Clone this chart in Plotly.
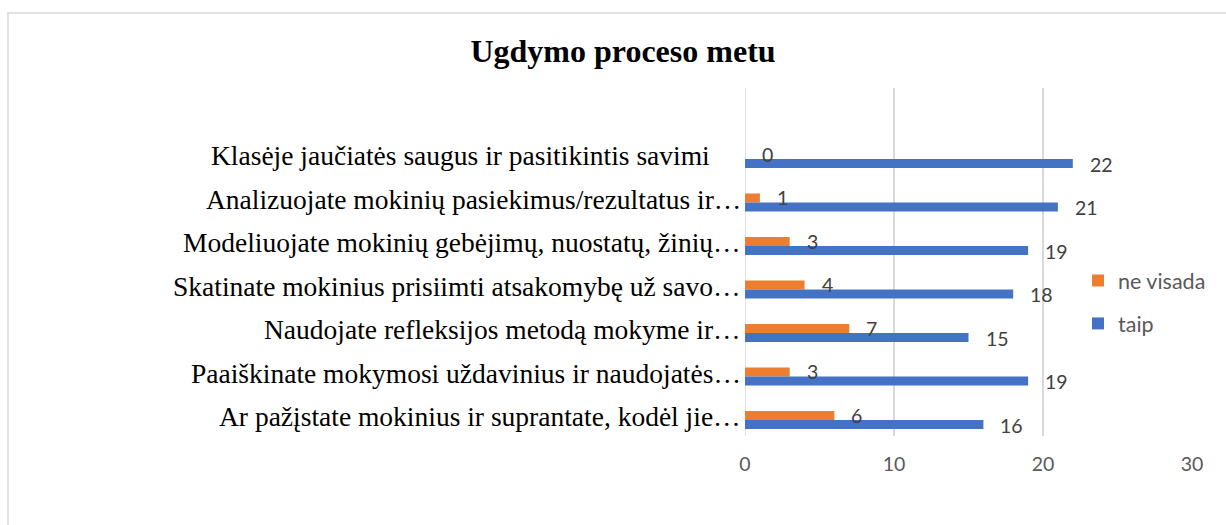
import plotly.graph_objects as go

# Survey answers per statement (top to bottom as listed)
categories = [
    "Klasėje jaučiatės saugus ir pasitikintis savimi",
    "Analizuojate mokinių pasiekimus/rezultatus ir…",
    "Modeliuojate mokinių gebėjimų, nuostatų, žinių…",
    "Skatinate mokinius prisiimti atsakomybę už savo…",
    "Naudojate refleksijos metodą mokyme ir…",
    "Paaiškinate mokymosi uždavinius ir naudojatės…",
    "Ar pažįstate mokinius ir suprantate, kodėl jie…",
]
ne_visada = [0, 1, 3, 4, 7, 3, 6]
taip = [22, 21, 19, 18, 15, 19, 16]
x_ticks = [0, 10, 20, 30]
title_text = "Ugdymo proceso metu"

ORANGE = "#ED7D31"
BLUE = "#4472C4"
GRID = "#d9d9d9"
LABEL_GRAY = "#404040"
AXIS_GRAY = "#595959"
SANS = "Lato"
SERIF = "Liberation Serif"

W, H = 1226, 525
L, R, T, B = 745, 34, 88, 89
plot_w = W - L - R
plot_h = H - T - B

n = len(categories)
# first category drawn at the top
ypos = [n - 1 - i for i in range(n)]
bar_w = 0.207

fig = go.Figure()
fig.add_trace(go.Bar(
    name="ne visada", orientation="h", y=ypos, x=ne_visada,
    width=bar_w, offset=0, marker=dict(color=ORANGE, line=dict(width=0)),
    legendgroup="a",
))
fig.add_trace(go.Bar(
    name="taip", orientation="h", y=ypos, x=taip,
    width=bar_w, offset=-bar_w, marker=dict(color=BLUE, line=dict(width=0)),
    legendgroup="b",
))

annotations = []
# value labels at the bar ends
for yp, v in zip(ypos, ne_visada):
    annotations.append(dict(x=v, y=yp + bar_w / 2, xref="x", yref="y", text=str(v),
                            showarrow=False, xanchor="left", yanchor="middle",
                            xshift=15, yshift=0,
                            font=dict(family=SANS, size=19.5, color=LABEL_GRAY)))
for yp, v in zip(ypos, taip):
    annotations.append(dict(x=v, y=yp - bar_w / 2, xref="x", yref="y", text=str(v),
                            showarrow=False, xanchor="left", yanchor="middle",
                            xshift=15, yshift=-1,
                            font=dict(family=SANS, size=19.5, color=LABEL_GRAY)))
# category labels
for yp, c in zip(ypos, categories):
    annotations.append(dict(x=0, y=yp, xref="x", yref="y", text=c,
                            showarrow=False, xanchor="right", yanchor="middle",
                            xshift=-2 if c.endswith("…") else -33, yshift=3,
                            font=dict(family=SERIF, size=27.5, color="black")))

fig.update_layout(
    width=W, height=H, autosize=False,
    margin=dict(l=L, r=R, t=T, b=B),
    paper_bgcolor="white", plot_bgcolor="white",
    barmode="overlay",
    title=dict(text="<b>" + title_text + "</b>", x=623 / W, xanchor="center",
               y=1 - 51 / H, yanchor="middle",
               font=dict(family=SERIF, size=32, color="black")),
    xaxis=dict(range=[0, 30], tickvals=x_ticks, showgrid=True, gridcolor=GRID,
               gridwidth=1.5, zeroline=False, showline=False, ticks="",
               ticklabelstandoff=14,
               tickfont=dict(family=SANS, size=19.5, color=AXIS_GRAY)),
    yaxis=dict(range=[-0.368, 7.632], showticklabels=False, showgrid=False,
               zeroline=False, showline=False, ticks=""),
    showlegend=True,
    legend=dict(x=(1078 - L) / plot_w, y=(H - B - 260) / plot_h, xanchor="left",
                yanchor="top", bgcolor="rgba(0,0,0,0)", tracegroupgap=12,
                font=dict(family=SANS, size=21.5, color=AXIS_GRAY)),
    annotations=annotations,
    shapes=[
        # axis line at zero
        dict(type="line", xref="x", yref="paper", x0=0, x1=0, y0=0, y1=1,
             line=dict(color=GRID, width=1.5), layer="below"),
        # chart frame
        dict(type="rect", xref="paper", yref="paper",
             x0=(8 - L) / plot_w, x1=(W + 10 - L) / plot_w,
             y0=-(B + 10) / plot_h, y1=(H - B - 13) / plot_h,
             line=dict(color=GRID, width=1.5), fillcolor="rgba(0,0,0,0)",
             layer="below"),
    ],
)

fig.write_html("out.html")
